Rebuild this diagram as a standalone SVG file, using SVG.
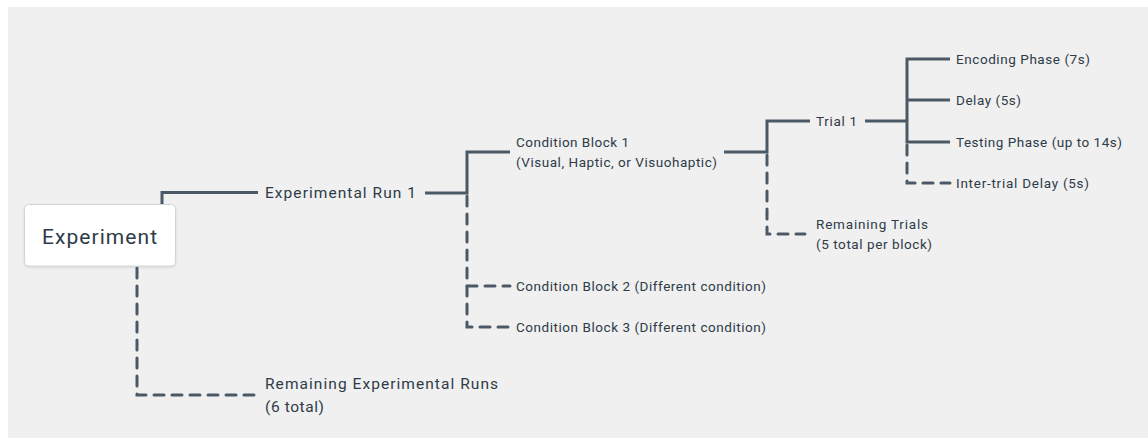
<svg xmlns="http://www.w3.org/2000/svg" width="1148" height="440" viewBox="0 0 1148 440">
<style>
.bg{fill:#f0f0f0}
.ln{fill:none;stroke:#4b5967;stroke-width:3;stroke-linejoin:miter}
.ds{fill:none;stroke:#4b5967;stroke-width:3;stroke-dasharray:10 8;stroke-linecap:round}
.t{font-family:Roboto,"Liberation Sans",sans-serif;font-size:13.5px;fill:#2e3b48}
.tm{font-family:Roboto,"Liberation Sans",sans-serif;font-size:15.5px;fill:#2e3b48}
.tr{font-family:Roboto,"Liberation Sans",sans-serif;font-size:21px;fill:#2e3b48}
</style>
<defs>
<filter id="sh" x="-10%" y="-10%" width="120%" height="130%"><feDropShadow dx="0" dy="1" stdDeviation="1" flood-color="#000" flood-opacity="0.12"/></filter>
</defs>
<rect class="bg" x="8" y="7" width="1140" height="431"/>
<g id="connectors">
<path class="ln" d="M162,205 V192.5 H258"/>
<path class="ds" d="M137,268 V395 H258"/>
<path class="ln" d="M425,193 H467 V152 H510"/>
<path class="ds" d="M467,196 V327 H510"/>
<path class="ds" d="M467,286 H510"/>
<path class="ln" d="M724,152 H767 V121 H810"/>
<path class="ds" d="M767,155 V234 H805"/>
<path class="ln" d="M865,121 H907"/>
<path class="ln" d="M950,59 H907 V142 H950"/>
<path class="ln" d="M907,100 H950"/>
<path class="ds" d="M907,145 V183 H950"/>
</g>
<g id="experiment">
<rect x="24.5" y="204.5" width="151" height="61.5" rx="4" fill="#ffffff" stroke="#d4d4d4" stroke-width="1" filter="url(#sh)"/>
<text class="tr" x="42" y="244" textLength="115" lengthAdjust="spacing">Experiment</text>
</g>
<g id="run1"><text class="tm" x="265" y="198" textLength="151" lengthAdjust="spacing">Experimental Run 1</text></g>
<g id="remaining-runs"><text class="tm" x="265" y="389" textLength="233" lengthAdjust="spacing">Remaining Experimental Runs</text><text class="tm" x="265" y="412" textLength="59" lengthAdjust="spacing">(6 total)</text></g>
<g id="block1"><text class="t" x="516" y="147" textLength="113" lengthAdjust="spacing">Condition Block 1</text><text class="t" x="516" y="167" textLength="201" lengthAdjust="spacing">(Visual, Haptic, or Visuohaptic)</text></g>
<g id="block2"><text class="t" x="516" y="291" textLength="250" lengthAdjust="spacing">Condition Block 2 (Different condition)</text></g>
<g id="block3"><text class="t" x="516" y="332" textLength="250" lengthAdjust="spacing">Condition Block 3 (Different condition)</text></g>
<g id="trial1"><text class="t" x="816" y="126" textLength="41" lengthAdjust="spacing">Trial 1</text></g>
<g id="remaining-trials"><text class="t" x="816" y="229" textLength="112" lengthAdjust="spacing">Remaining Trials</text><text class="t" x="816" y="249" textLength="116" lengthAdjust="spacing">(5 total per block)</text></g>
<g id="encoding"><text class="t" x="956" y="64" textLength="134" lengthAdjust="spacing">Encoding Phase (7s)</text></g>
<g id="delay"><text class="t" x="956" y="105" textLength="65" lengthAdjust="spacing">Delay (5s)</text></g>
<g id="testing"><text class="t" x="956" y="147" textLength="166" lengthAdjust="spacing">Testing Phase (up to 14s)</text></g>
<g id="intertrial"><text class="t" x="956" y="188" textLength="133" lengthAdjust="spacing">Inter-trial Delay (5s)</text></g>
</svg>
